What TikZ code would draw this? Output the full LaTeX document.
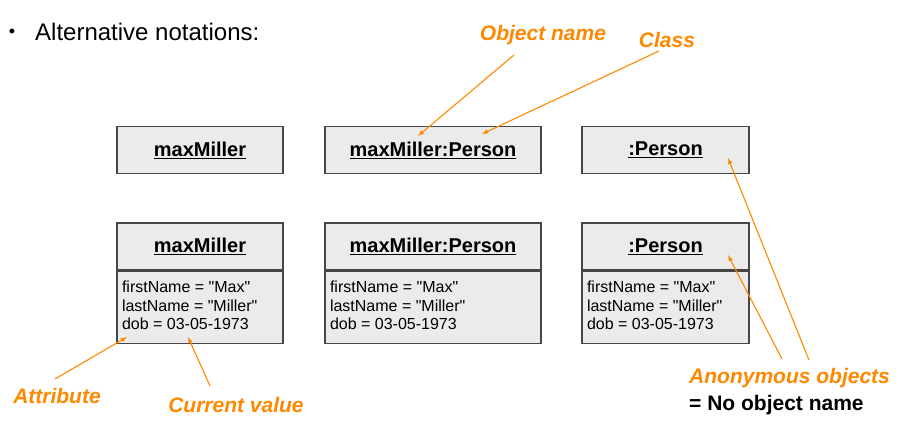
\documentclass[tikz,border=0pt]{standalone}
\usepackage{fontspec}
\setmainfont{Liberation Sans}
\usetikzlibrary{positioning}
\usetikzlibrary{calc}
\definecolor{Note}{RGB}{255,136,0}
\definecolor{BoxFill}{RGB}{235,235,235}
\definecolor{BoxEdge}{RGB}{70,70,70}
\newcommand{\slotlines}[1]{\parbox[c][52pt][t]{#1}{firstName = \textquotedbl Max\textquotedbl\\lastName = \textquotedbl Miller\textquotedbl\\dob = 03-05-1973}}

\begin{document}
\begin{tikzpicture}[x=1pt, y=-1pt, >=latex, every node/.style={inner sep=1pt},
    obj/.style={draw=BoxEdge, line width=1.2pt, fill=BoxFill, minimum height=47pt, font=\fontsize{20}{24}\selectfont\bfseries},
    slots/.style={draw=BoxEdge, line width=1.2pt, fill=BoxFill, minimum height=72pt, inner xsep=4pt, anchor=north, font=\fontsize{16}{18.5}\selectfont},
    note/.style={text=Note, font=\fontsize{21}{24}\selectfont\bfseries\itshape},
    pointer/.style={Note, line width=1.1pt, ->}]
      \useasboundingbox (0,0) rectangle (911,442);

      \node[font=\fontsize{18}{20}\selectfont] (bullet) at (12,33) {•};
      \node[anchor=west, font=\fontsize{24}{28}\selectfont] (title) at (34,32) {Alternative notations:};

      % short notations
      \node[obj, minimum width=166pt] (mm) at (200,150) {\underline{maxMiller}};
      \node[obj, minimum width=216pt] (mmp) at (433,150) {\underline{maxMiller:Person}};
      \node[obj, minimum width=167pt] (per) at (665.5,150) {\underline{:Person}};

      % with attribute values
      \foreach \n/\x/\w/\t in {mmA/200/166/maxMiller, mmpA/433/216/maxMiller:Person, perA/665.5/167/:Person} {
        \node[obj, minimum width=\w pt] (\n) at (\x,246.5) {\underline{\t}};
        \node[slots, minimum width=\w pt] (\n s) at (\n.south) {\slotlines{\dimexpr\w pt-10pt\relax}};
      }

      \node[note] (objname) at (543,35) {Object name};
      \node[note] (cls) at (667,40) {Class};
      \node[note] (attr) at (57,396) {Attribute};
      \node[note] (curval) at (236,405) {Current value};
      \node[note, anchor=west] (anon) at (688,378) {Anonymous objects};
      \node[anchor=west, font=\fontsize{21}{24}\selectfont\bfseries] (noname) at (688,405) {= No object name};

      \coordinate (onTail) at (514,55);
      \coordinate (onTip) at (418,136);
      \coordinate (clTail) at (659,51);
      \coordinate (clTip) at (482,134);
      \coordinate (atTail) at (55,379);
      \coordinate (atTip) at (127,337);
      \coordinate (cvTail) at (210,386);
      \coordinate (cvTip) at (188,337);
      \coordinate (anTailA) at (809,360);
      \coordinate (anTipA) at (728,158);
      \coordinate (anTailB) at (782,359);
      \coordinate (anTipB) at (728,255);

      \draw[pointer] (onTail) -- (onTip);
      \draw[pointer] (clTail) -- (clTip);
      \draw[pointer] (atTail) -- (atTip);
      \draw[pointer] (cvTail) -- (cvTip);
      \draw[pointer] (anTailA) -- (anTipA);
      \draw[pointer] (anTailB) -- (anTipB);
    \end{tikzpicture}
\end{document}
